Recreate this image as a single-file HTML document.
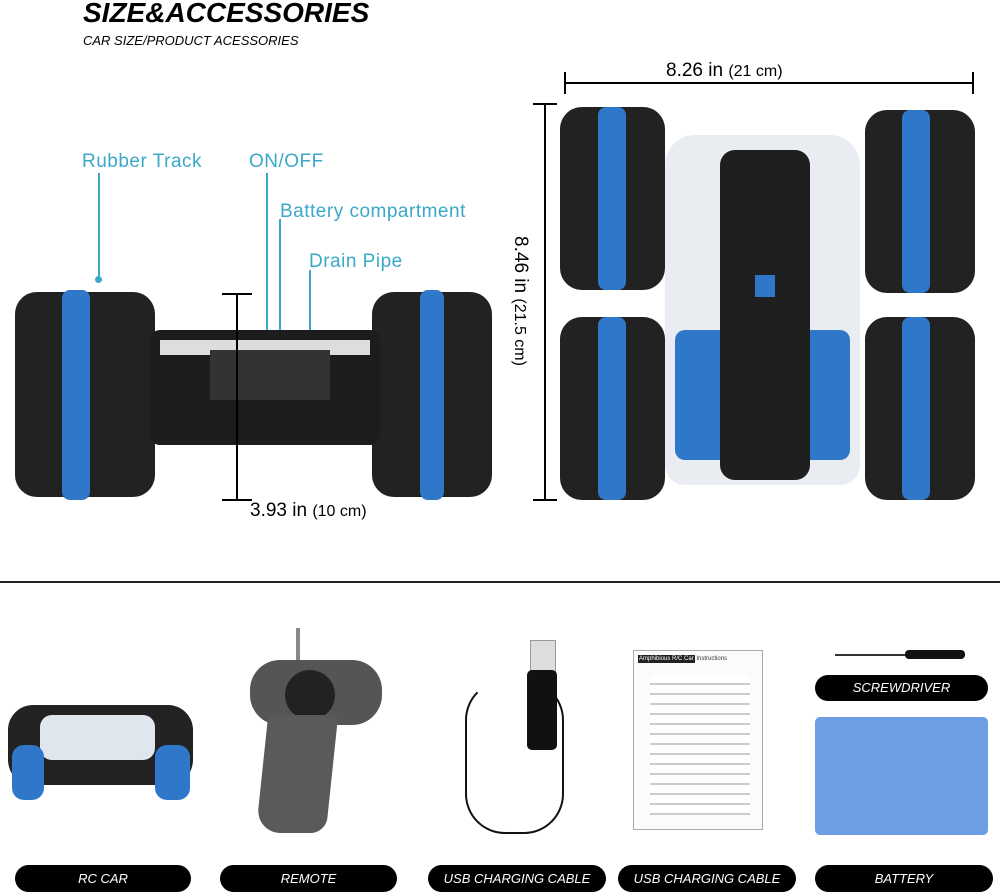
<!DOCTYPE html>
<html><head><style>
body{margin:0;width:1000px;height:893px;background:#fff;position:relative;overflow:hidden;font-family:"Liberation Sans",sans-serif}
.a{position:absolute}
.t{color:#3aa8c8;font-size:19px;letter-spacing:.5px}
.pill{position:absolute;top:865px;height:27px;background:#000;border-radius:14px;color:#fff;font-style:italic;font-size:13px;text-align:center;line-height:27px}
.wheel{position:absolute;background:#222;border-radius:22px}
.band{position:absolute;background:#2f78c9}
.vl{position:absolute;width:1.5px;background:#3aa8c8}
</style></head><body>
<div class="a" style="left:83px;top:-3px;font-size:28px;font-weight:bold;font-style:italic">SIZE&amp;ACCESSORIES</div>
<div class="a" style="left:83px;top:33px;font-size:13px;font-style:italic">CAR SIZE/PRODUCT ACESSORIES</div>

<div class="a t" style="left:82px;top:151px">Rubber Track</div>
<div class="a t" style="left:249px;top:151px">ON/OFF</div>
<div class="a t" style="left:280px;top:201px">Battery compartment</div>
<div class="a t" style="left:309px;top:251px">Drain Pipe</div>
<div class="vl" style="left:98px;top:173px;height:106px"></div>
<div class="a" style="left:95px;top:276px;width:7px;height:7px;border-radius:50%;background:#3aa8c8"></div>
<div class="vl" style="left:266px;top:173px;height:260px"></div>
<div class="vl" style="left:279px;top:219px;height:215px"></div>
<div class="vl" style="left:309px;top:270px;height:165px"></div>

<div class="wheel" style="left:15px;top:292px;width:140px;height:205px"></div>
<div class="band" style="left:62px;top:290px;width:28px;height:210px;border-radius:8px"></div>
<div class="wheel" style="left:372px;top:292px;width:120px;height:205px"></div>
<div class="band" style="left:420px;top:290px;width:24px;height:210px;border-radius:8px"></div>
<div class="a" style="left:150px;top:330px;width:230px;height:115px;background:#1c1c1c;border-radius:10px"></div>
<div class="a" style="left:160px;top:340px;width:210px;height:15px;background:#ddd"></div>
<div class="a" style="left:210px;top:350px;width:120px;height:50px;background:#333"></div>
<div class="a" style="left:222px;top:293px;width:30px;height:2px;background:#000"></div>
<div class="a" style="left:236px;top:293px;width:2px;height:207px;background:#000"></div>
<div class="a" style="left:222px;top:499px;width:30px;height:2px;background:#000"></div>
<div class="a" style="left:250px;top:500px;font-size:19px">3.93 in <span style="font-size:16px">(10 cm)</span></div>

<div class="a" style="left:565px;top:82px;width:408px;height:1.5px;background:#000"></div>
<div class="a" style="left:564px;top:72px;width:1.5px;height:22px;background:#000"></div>
<div class="a" style="left:972px;top:72px;width:1.5px;height:22px;background:#000"></div>
<div class="a" style="left:666px;top:60px;font-size:19px">8.26 in <span style="font-size:16px">(21 cm)</span></div>
<div class="a" style="left:544px;top:103px;width:1.5px;height:397px;background:#000"></div>
<div class="a" style="left:533px;top:103px;width:24px;height:1.5px;background:#000"></div>
<div class="a" style="left:533px;top:499px;width:24px;height:1.5px;background:#000"></div>
<div class="a" style="left:420px;top:290px;width:200px;font-size:19px;transform:rotate(90deg);text-align:center">8.46 in <span style="font-size:16px">(21.5 cm)</span></div>
<div class="wheel" style="left:560px;top:107px;width:105px;height:183px"></div>
<div class="band" style="left:598px;top:107px;width:28px;height:183px;border-radius:8px"></div>
<div class="wheel" style="left:865px;top:110px;width:110px;height:183px"></div>
<div class="band" style="left:902px;top:110px;width:28px;height:183px;border-radius:8px"></div>
<div class="wheel" style="left:560px;top:317px;width:105px;height:183px"></div>
<div class="band" style="left:598px;top:317px;width:28px;height:183px;border-radius:8px"></div>
<div class="wheel" style="left:865px;top:317px;width:110px;height:183px"></div>
<div class="band" style="left:902px;top:317px;width:28px;height:183px;border-radius:8px"></div>
<div class="a" style="left:665px;top:135px;width:195px;height:350px;background:#e9edf2;border-radius:30px 30px 20px 20px"></div>
<div class="a" style="left:675px;top:330px;width:175px;height:130px;background:#2f78c9;border-radius:10px"></div>
<div class="a" style="left:720px;top:150px;width:90px;height:330px;background:#1f1f1f;border-radius:15px"></div>
<div class="a" style="left:755px;top:275px;width:20px;height:22px;background:#2f78c9"></div>

<div class="a" style="left:0;top:581px;width:1000px;height:2px;background:#222"></div>

<div class="a" style="left:8px;top:705px;width:185px;height:80px;background:#222;border-radius:25px"></div>
<div class="a" style="left:40px;top:715px;width:115px;height:45px;background:#dfe6ee;border-radius:12px"></div>
<div class="a" style="left:12px;top:745px;width:32px;height:55px;background:#2f78c9;border-radius:12px"></div>
<div class="a" style="left:155px;top:745px;width:35px;height:55px;background:#2f78c9;border-radius:12px"></div>

<div class="a" style="left:296px;top:628px;width:4px;height:40px;background:#888"></div>
<div class="a" style="left:250px;top:660px;width:132px;height:65px;background:#555;border-radius:30px"></div>
<div class="a" style="left:285px;top:670px;width:50px;height:50px;background:#222;border-radius:50%"></div>
<div class="a" style="left:262px;top:715px;width:70px;height:118px;background:#5a5a5a;border-radius:8px 8px 15px 25px;transform:skewX(-6deg)"></div>

<div class="a" style="left:530px;top:640px;width:24px;height:30px;background:#ddd;border:1px solid #999"></div>
<div class="a" style="left:527px;top:670px;width:30px;height:80px;background:#111;border-radius:5px"></div>
<div class="a" style="left:465px;top:680px;width:95px;height:150px;border:2px solid #111;border-radius:40px;border-top-color:transparent"></div>

<div class="a" style="left:633px;top:650px;width:130px;height:180px;background:#fbfbfb;border:1px solid #aaa;font-size:6px;color:#333;padding:4px;box-sizing:border-box">
<div style="background:#222;color:#fff;display:inline-block;padding:1px">Amphibious R/C Car</div> Instructions</div>
<div class="a" style="left:650px;top:675px;width:100px;height:140px;background:repeating-linear-gradient(#fff 0,#fff 8px,#ccc 8px,#ccc 10px)"></div>

<div class="a" style="left:835px;top:654px;width:130px;height:2px;background:#333"></div>
<div class="a" style="left:905px;top:650px;width:60px;height:9px;background:#111;border-radius:4px"></div>
<div class="a" style="left:815px;top:675px;width:173px;height:26px;background:#000;border-radius:13px;color:#fff;font-style:italic;font-size:13px;text-align:center;line-height:26px">SCREWDRIVER</div>
<div class="a" style="left:815px;top:717px;width:173px;height:118px;background:#6e9ee3;border-radius:5px"></div>

<div class="pill" style="left:15px;width:176px">RC CAR</div>
<div class="pill" style="left:220px;width:177px">REMOTE</div>
<div class="pill" style="left:428px;width:178px">USB CHARGING CABLE</div>
<div class="pill" style="left:618px;width:178px">USB CHARGING CABLE</div>
<div class="pill" style="left:815px;width:178px">BATTERY</div>
</body></html>
